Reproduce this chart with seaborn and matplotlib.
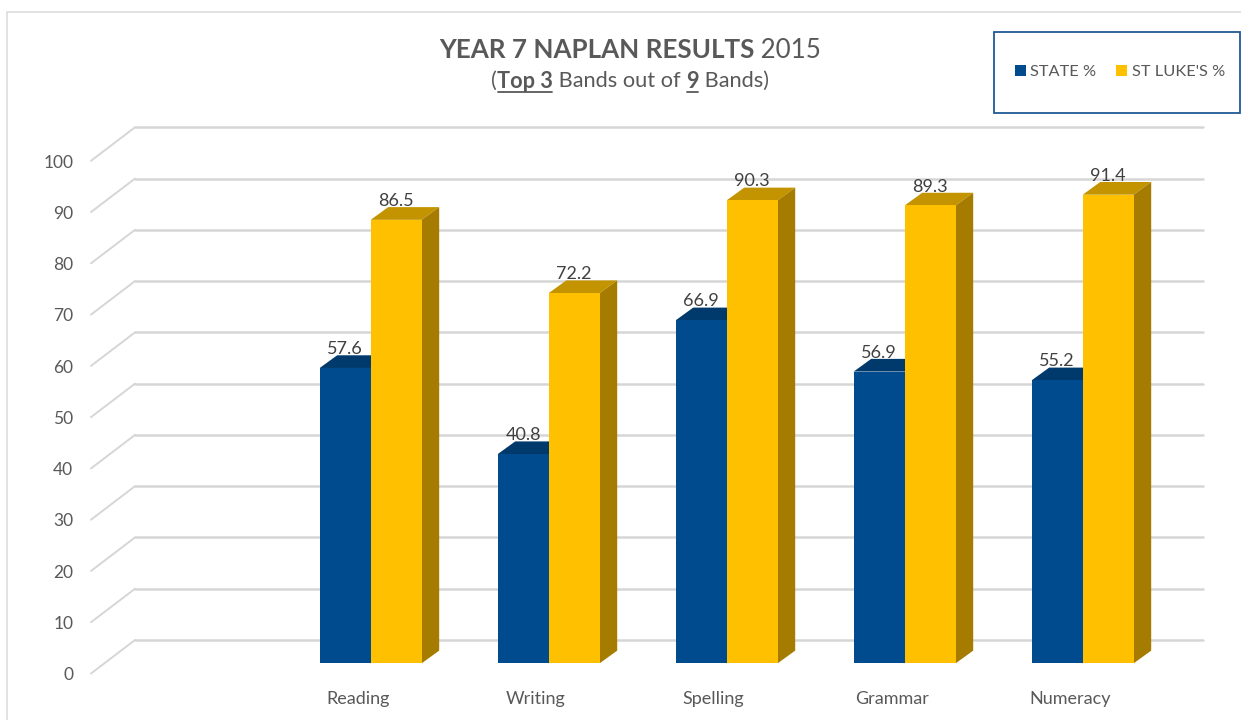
import matplotlib.pyplot as plt
import matplotlib.transforms as mtrans
import numpy as np
import pandas as pd
import seaborn as sns
from matplotlib.lines import Line2D
from matplotlib.patches import Polygon, Rectangle

subjects = ["Reading", "Writing", "Spelling", "Grammar", "Numeracy"]
state = [57.6, 40.8, 66.9, 56.9, 55.2]
st_lukes = [86.5, 72.2, 90.3, 89.3, 91.4]
y_ticks = list(range(0, 101, 10))

W, H = 1241, 720
GOLD = "#FFC000"
BLUE = "#004B8D"
GRID = "#D6D6D6"
TEXT = "#595959"

# pixels per category / per percent, the chart is a fake 3D one
CAT_PX = 178.0
VAL_PX = 5.127


def fig_x(px):
    return px / W


def fig_y(px):
    return 1 - px / H


def draw_pieces(fig, pieces, center_px, y_px, size):
    """Draws a centred line of text made of bold/underlined pieces."""
    renderer = fig.canvas.get_renderer()
    texts = [fig.text(0, fig_y(y_px), s, fontsize=size, color=TEXT, va="center",
                      fontweight="bold" if bold else "normal")
             for s, bold, under in pieces]
    widths = [t.get_window_extent(renderer).width for t in texts]
    left = center_px - sum(widths) / 2
    for t, w, (s, bold, under) in zip(texts, widths, pieces):
        t.set_x(fig_x(left))
        if under:
            fig.add_artist(Line2D([fig_x(left + 1), fig_x(left + w - 1)],
                                  [fig_y(y_px + 11)] * 2, color=TEXT, lw=1.3))
        left += w


plt.rcParams["font.family"] = ["Lato", "DejaVu Sans"]
sns.set_style("white")
plt.rcParams["font.family"] = ["Lato", "DejaVu Sans"]

df = pd.DataFrame({
    "subject": subjects * 2,
    "percent": state + st_lukes,
    "series": ["STATE %"] * 5 + ["ST LUKE'S %"] * 5,
})

fig = plt.figure(figsize=(W / 100, H / 100), dpi=100)
ax = fig.add_axes([fig_x(103.7), fig_y(663.3), 6 * CAT_PX / W, 100 * VAL_PX / H])

sns.barplot(data=df, x="subject", y="percent", hue="series", ax=ax,
            order=[""] + subjects, hue_order=["STATE %", "ST LUKE'S %"],
            palette=[BLUE, GOLD], width=2 * 51 / CAT_PX, saturation=1,
            edgecolor="none", zorder=4)

ax.set_xlim(-0.5, 5.5)
ax.set_ylim(0, 100)
ax.set(xlabel="", ylabel="")
sns.despine(ax=ax, left=True, bottom=True)
ax.patch.set_alpha(0)

# depth of the bars, data units
depth_x = 17.5 / CAT_PX
depth_y = 12.7 / VAL_PX

top_colors = ["#003A6C", "#C49400"]
side_colors = ["#003A6C", "#A67C00"]
for cont, top_c, side_c in zip(ax.containers, top_colors, side_colors):
    for bar in cont:
        x0, x1 = bar.get_x(), bar.get_x() + bar.get_width()
        v = bar.get_height()
        ax.add_patch(Polygon([(x0, v), (x1, v), (x1 + depth_x, v + depth_y), (x0 + depth_x, v + depth_y)],
                             fc=top_c, ec="none", zorder=3, clip_on=False))
        ax.add_patch(Polygon([(x1, 0), (x1, v), (x1 + depth_x, v + depth_y), (x1 + depth_x, depth_y)],
                             fc=side_c, ec="none", zorder=3, clip_on=False))
    ax.bar_label(cont, fmt="%.1f", padding=7.8, fontsize=13, color="#404040", zorder=6)

# side wall and back wall lines
front_x, front_y = -0.5 - 12.7 / CAT_PX, -10.2 / VAL_PX
back_x, back_y = -0.5 + 31.3 / CAT_PX, 23.3 / VAL_PX
for tick in y_ticks:
    ax.plot([front_x, back_x], [tick + front_y, tick + back_y], color=GRID, lw=1.4,
            clip_on=False, zorder=1, solid_capstyle="round")
    ax.plot([back_x, back_x + 6], [tick + back_y] * 2, color=GRID, lw=1.8,
            clip_on=False, zorder=1)

ax.set_yticks(y_ticks)
ax.tick_params(length=0, labelcolor=TEXT)
ax.tick_params(axis="y", labelsize=12.5, pad=22)
ax.tick_params(axis="x", labelsize=13, pad=20)

# labels sit on the front plane, not on the bar plane
y_shift = mtrans.Affine2D().translate(0, -10.5)
for label in ax.get_yticklabels():
    label.set_transform(label.get_transform() + y_shift)
x_shift = mtrans.Affine2D().translate(-13, 0)
for label in ax.get_xticklabels():
    label.set_transform(label.get_transform() + x_shift)

# outer chart frame runs off the picture on the right and at the bottom
fig.add_artist(Rectangle((fig_x(7), fig_y(740)), fig_x(1260), fig_y(12) - fig_y(740),
                         fc="none", ec="#DDDDDD", lw=1.2, transform=fig.transFigure))

fig.canvas.draw()
draw_pieces(fig, [("YEAR 7 NAPLAN RESULTS", True, False), (" 2015", False, False)], 630, 50, 18.7)
draw_pieces(fig, [("(", False, False), ("Top 3", True, True), (" Bands out of ", False, False),
                  ("9", True, True), (" Bands)", False, False)], 630, 81, 15.7)

# legend box is a fixed size in the picture, drawn under the axes so the legend stays on top
fig.add_artist(Rectangle((fig_x(993.5), fig_y(113)), 246 / W, 81 / H, fc="none", ec="#1F5A96",
                         lw=1.3, transform=fig.transFigure, zorder=-1))
sns.move_legend(ax, "center left", bbox_to_anchor=(fig_x(1015), fig_y(72)),
                bbox_transform=fig.transFigure, ncol=2, title=None, frameon=False,
                fontsize=11.8, handlelength=0.67, handleheight=0.67, handletextpad=0.27,
                columnspacing=1.2, borderaxespad=0, borderpad=0, labelcolor=TEXT)
ax.get_legend().set_zorder(8)

fig.savefig("out.png", dpi=100)
